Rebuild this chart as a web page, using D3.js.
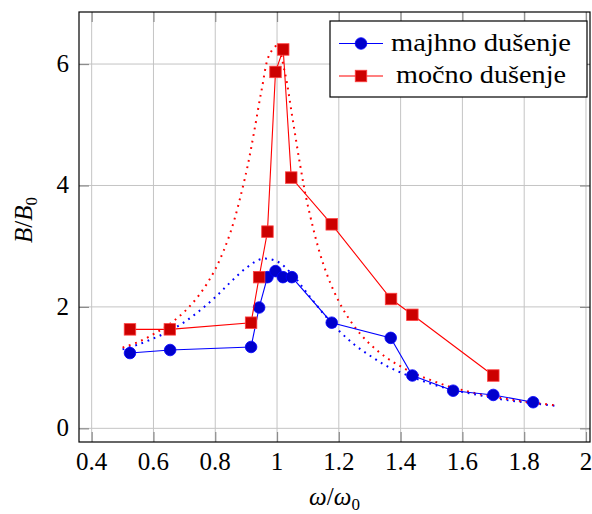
<!DOCTYPE html>
<html>
<head>
<meta charset="utf-8">
<script src="https://cdn.jsdelivr.net/npm/d3@7"></script>
<style>
  body { margin: 0; background: #fff; }
  svg { display: block; }
  text { font-family: "Liberation Serif", "Times New Roman", Times, Tinos, "DejaVu Serif", "Noto Serif", serif; fill: #000; }
</style>
</head>
<body>
<div id="chart"></div>
<script>
// ---- data ----
const seriesNames = ["majhno dušenje", "močno dušenje"];

const weakX = [0.524, 0.654, 0.916, 0.942, 0.969, 0.995, 1.019, 1.048, 1.177, 1.368, 1.438, 1.570, 1.700, 1.829];
const weakY = [1.24, 1.29, 1.34, 1.99, 2.49, 2.59, 2.49, 2.49, 1.74, 1.49, 0.87, 0.62, 0.55, 0.43];

const strongX = [0.524, 0.653, 0.916, 0.942, 0.969, 0.995, 1.020, 1.046, 1.177, 1.369, 1.438, 1.700];
const strongY = [1.63, 1.63, 1.74, 2.49, 3.24, 5.87, 6.24, 4.13, 3.36, 2.13, 1.87, 0.87];

// dotted reference curves
const weakCurveX = [0.50, 0.55, 0.60, 0.65, 0.70, 0.75, 0.80, 0.85, 0.90, 0.95, 1.00, 1.05, 1.10, 1.15, 1.20, 1.25, 1.30, 1.35, 1.40, 1.45, 1.50, 1.55, 1.60, 1.65, 1.70, 1.75, 1.80, 1.85, 1.90];
const weakCurveY = [1.30, 1.38, 1.48, 1.60, 1.75, 1.94, 2.16, 2.41, 2.64, 2.79, 2.75, 2.53, 2.21, 1.89, 1.61, 1.38, 1.20, 1.04, 0.92, 0.82, 0.73, 0.66, 0.60, 0.55, 0.50, 0.46, 0.43, 0.40, 0.37];

const strongCurveX = [0.50, 0.55, 0.60, 0.65, 0.70, 0.75, 0.80, 0.85, 0.90, 0.925, 0.95, 0.975, 1.00, 1.025, 1.05, 1.075, 1.10, 1.15, 1.20, 1.25, 1.30, 1.35, 1.40, 1.45, 1.50, 1.55, 1.60, 1.65, 1.70, 1.75, 1.80, 1.85, 1.90];
const strongCurveY = [1.33, 1.42, 1.55, 1.71, 1.92, 2.21, 2.62, 3.24, 4.21, 4.86, 5.57, 6.15, 6.30, 5.87, 5.11, 4.33, 3.66, 2.70, 2.09, 1.68, 1.39, 1.18, 1.02, 0.89, 0.79, 0.70, 0.63, 0.57, 0.52, 0.48, 0.44, 0.41, 0.38];

const xTicks = [0.4, 0.6, 0.8, 1.0, 1.2, 1.4, 1.6, 1.8, 2.0];
const xTickLabels = ["0.4", "0.6", "0.8", "1", "1.2", "1.4", "1.6", "1.8", "2"];
const yTicks = [0, 2, 4, 6];
const yTickLabels = ["0", "2", "4", "6"];

// ---- layout ----
const W = 592, H = 514;
const box = { left: 79, right: 590, top: 12, bottom: 442 };
const x = d3.scaleLinear().domain([0.359, 2.013]).range([box.left, box.right]);
const y = d3.scaleLinear().domain([-0.225, 6.857]).range([box.bottom, box.top]);

const svg = d3.select("#chart").append("svg").attr("width", W).attr("height", H);

const blueLine = "#0000ff", blueFill = "#0000cc";
const redLine = "#ff0000", redFill = "#cc0000";
const gridColor = "#c4c4c4", tickColor = "#8c8c8c";
const FS = 25;

// grid
const g = svg.append("g");
g.selectAll("line.gx").data(xTicks).join("line")
  .attr("x1", d => x(d)).attr("x2", d => x(d))
  .attr("y1", box.top).attr("y2", box.bottom)
  .attr("stroke", gridColor).attr("stroke-width", 1);
g.selectAll("line.gy").data(yTicks).join("line")
  .attr("y1", d => y(d)).attr("y2", d => y(d))
  .attr("x1", box.left).attr("x2", box.right)
  .attr("stroke", gridColor).attr("stroke-width", 1);

// ticks (inside, on all four sides) via d3 axes
const tl = 10;
function styleTicks(sel) {
  sel.select(".domain").remove();
  sel.selectAll(".tick line").attr("stroke", tickColor).attr("stroke-width", 1.2);
  sel.selectAll(".tick text").remove();
}
svg.append("g").attr("transform", `translate(0,${box.bottom})`)
  .call(d3.axisTop(x).tickValues(xTicks).tickSize(tl)).call(styleTicks);
svg.append("g").attr("transform", `translate(0,${box.top})`)
  .call(d3.axisBottom(x).tickValues(xTicks).tickSize(tl)).call(styleTicks);
svg.append("g").attr("transform", `translate(${box.left},0)`)
  .call(d3.axisRight(y).tickValues(yTicks).tickSize(tl)).call(styleTicks);
svg.append("g").attr("transform", `translate(${box.right},0)`)
  .call(d3.axisLeft(y).tickValues(yTicks).tickSize(tl)).call(styleTicks);

// tick labels
svg.append("g").selectAll("text").data(xTicks).join("text")
  .attr("x", d => x(d)).attr("y", 470)
  .attr("text-anchor", "middle").attr("font-size", FS)
  .text((d, i) => xTickLabels[i]);
svg.append("g").selectAll("text").data(yTicks).join("text")
  .attr("x", 69).attr("y", d => y(d) + 8)
  .attr("text-anchor", "end").attr("font-size", FS)
  .text((d, i) => yTickLabels[i]);

// axis labels
const xl = svg.append("text").attr("x", (box.left + box.right) / 2).attr("y", 505)
  .attr("text-anchor", "middle").attr("font-size", FS);
xl.append("tspan").attr("font-style", "italic").text("ω");
xl.append("tspan").text("/");
xl.append("tspan").attr("font-style", "italic").text("ω");
xl.append("tspan").attr("font-size", 17).attr("dy", 5).text("0");

const yl = svg.append("text").attr("transform", `translate(32,220) rotate(-90)`)
  .attr("text-anchor", "middle").attr("font-size", FS);
yl.append("tspan").attr("font-style", "italic").text("B");
yl.append("tspan").text("/");
yl.append("tspan").attr("font-style", "italic").text("B");
yl.append("tspan").attr("font-size", 17).attr("dy", 5).text("0");

// clip
svg.append("clipPath").attr("id", "clip").append("rect")
  .attr("x", box.left).attr("y", box.top)
  .attr("width", box.right - box.left).attr("height", box.bottom - box.top);
const plot = svg.append("g").attr("clip-path", "url(#clip)");

const curveLine = d3.line().x(d => x(d[0])).y(d => y(d[1])).curve(d3.curveCatmullRom);
const straight = d3.line().x(d => x(d[0])).y(d => y(d[1]));

const wc = weakCurveX.map((v, i) => [v, weakCurveY[i]]);
const sc = strongCurveX.map((v, i) => [v, strongCurveY[i]]);
plot.append("path").attr("d", curveLine(wc)).attr("fill", "none")
  .attr("stroke", blueLine).attr("stroke-width", 2).attr("stroke-dasharray", "1.8 4.8");
plot.append("path").attr("d", curveLine(sc)).attr("fill", "none")
  .attr("stroke", redLine).attr("stroke-width", 2).attr("stroke-dasharray", "1.8 4.8");

const weak = weakX.map((v, i) => [v, weakY[i]]);
const strong = strongX.map((v, i) => [v, strongY[i]]);

plot.append("path").attr("d", straight(weak)).attr("fill", "none")
  .attr("stroke", blueLine).attr("stroke-width", 1.1);
plot.selectAll("circle.w").data(weak).join("circle")
  .attr("cx", d => x(d[0])).attr("cy", d => y(d[1])).attr("r", 5.8)
  .attr("fill", blueFill).attr("stroke", blueLine).attr("stroke-width", 0.8);

plot.append("path").attr("d", straight(strong)).attr("fill", "none")
  .attr("stroke", redLine).attr("stroke-width", 1.1);
const sq = 11.5;
plot.selectAll("rect.s").data(strong).join("rect")
  .attr("x", d => x(d[0]) - sq / 2).attr("y", d => y(d[1]) - sq / 2)
  .attr("width", sq).attr("height", sq)
  .attr("fill", redFill).attr("stroke", "#ff4040").attr("stroke-width", 0.8);

// axis box
svg.append("rect").attr("x", box.left).attr("y", box.top)
  .attr("width", box.right - box.left).attr("height", box.bottom - box.top)
  .attr("fill", "none").attr("stroke", "#000").attr("stroke-width", 1.2);

// legend
const lg = svg.append("g");
lg.append("rect").attr("x", 330).attr("y", 21).attr("width", 257).attr("height", 76)
  .attr("fill", "#fff").attr("stroke", "#000").attr("stroke-width", 1.2);
const rows = [
  { name: seriesNames[0], line: blueLine, fill: blueFill, shape: "circle", cy: 43.5 },
  { name: seriesNames[1], line: redLine, fill: redFill, shape: "square", cy: 76 }
];
rows.forEach(r => {
  lg.append("line").attr("x1", 339).attr("x2", 383).attr("y1", r.cy).attr("y2", r.cy)
    .attr("stroke", r.line).attr("stroke-width", 1.1);
  if (r.shape === "circle") {
    lg.append("circle").attr("cx", 361).attr("cy", r.cy).attr("r", 5.8)
      .attr("fill", r.fill).attr("stroke", r.line).attr("stroke-width", 0.8);
  } else {
    lg.append("rect").attr("x", 361 - sq / 2).attr("y", r.cy - sq / 2).attr("width", sq).attr("height", sq)
      .attr("fill", r.fill).attr("stroke", "#ff4040").attr("stroke-width", 0.8);
  }
  lg.append("text").attr("x", 481).attr("y", r.cy + 7).attr("text-anchor", "middle")
    .attr("font-size", FS).attr("textLength", r.shape === "circle" ? 180 : 170)
    .attr("lengthAdjust", "spacingAndGlyphs").text(r.name);
});
</script>
</body>
</html>
